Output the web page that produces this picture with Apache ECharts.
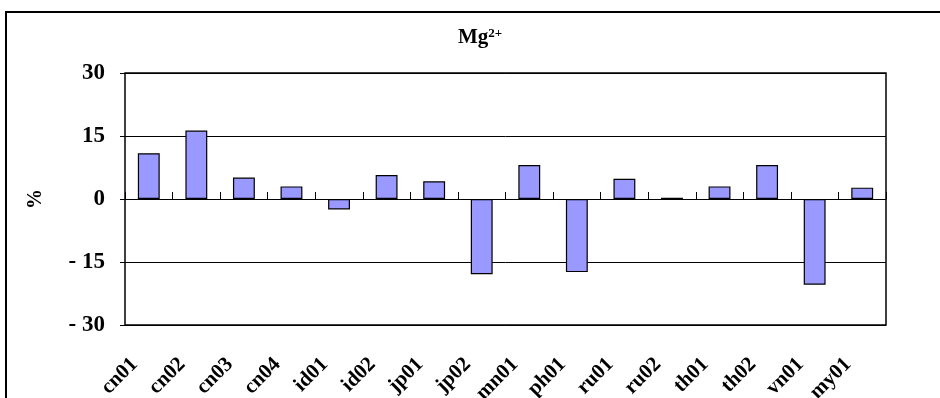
<!DOCTYPE html>
<html>
<head>
<meta charset="utf-8">
<style>
  html, body { margin: 0; padding: 0; background: #fff; }
  #chart { width: 940px; height: 398px; }
</style>
<script src="https://cdn.jsdelivr.net/npm/echarts@6/dist/echarts.min.js"></script>
</head>
<body>
<div id="chart"></div>
<script>
// Station codes along the x axis
const categories = ['cn01', 'cn02', 'cn03', 'cn04', 'id01', 'id02', 'jp01', 'jp02',
                    'mn01', 'ph01', 'ru01', 'ru02', 'th01', 'th02', 'vn01', 'my01'];
// Mg2+ deviation, percent
const mgValues = [10.9, 16.3, 5.1, 3.0, -2.5, 5.7, 4.2, -17.9,
                  8.1, -17.4, 4.8, 0.3, 3.0, 8.1, -20.4, 2.7];
// Value axis ticks
const yTicks = [-30, -15, 0, 15, 30];

const serif = '"Liberation Serif", "Times New Roman", serif';
const chart = echarts.init(document.getElementById('chart'));

chart.setOption({
  animation: false,
  backgroundColor: '#fff',
  title: {
    text: '{a|Mg}{b|2+}',
    left: 453,
    top: 22,
    textStyle: {
      rich: {
        a: { fontFamily: serif, fontWeight: 'bold', fontSize: 21, color: '#000' },
        b: { fontFamily: serif, fontSize: 13, color: '#000', padding: [0, 0, 9, 0] }
      }
    }
  },
  graphic: [
    {
      type: 'rect',
      shape: { x: 6, y: 12, width: 1000, height: 500 },
      style: { fill: 'none', stroke: '#000', lineWidth: 2 },
      silent: true
    },
    {
      type: 'text',
      x: 36,
      y: 199,
      rotation: Math.PI / 2,
      style: {
        text: '%',
        font: 'bold 20px ' + serif,
        fill: '#000',
        align: 'center',
        verticalAlign: 'middle'
      }
    }
  ],
  grid: {
    left: 125,
    right: 54,
    top: 73,
    bottom: 73,
    containLabel: false,
    outerBoundsMode: 'none',
    show: true,
    borderColor: '#000',
    borderWidth: 1.5,
    backgroundColor: '#fff'
  },
  xAxis: [
    {
      type: 'category',
      data: categories,
      axisLine: { onZero: true, lineStyle: { color: '#000', width: 1.2 } },
      axisTick: { show: true, inside: true, length: 7, lineStyle: { color: '#000', width: 1 } },
      axisLabel: { show: false },
      splitLine: { show: false }
    },
    {
      type: 'category',
      data: categories,
      position: 'bottom',
      axisLine: { show: false, onZero: false },
      axisTick: { show: false },
      axisLabel: {
        rotate: 45,
        margin: 22,
        interval: 0,
        padding: [0, 20, 0, 0],
        fontFamily: serif,
        fontWeight: 'bold',
        fontSize: 21,
        color: '#000'
      },
      splitLine: { show: false }
    }
  ],
  yAxis: {
    type: 'value',
    min: yTicks[0],
    max: yTicks[yTicks.length - 1],
    interval: 15,
    axisLine: { show: false },
    axisTick: { show: true, length: 5, lineStyle: { color: '#000' } },
    splitLine: { show: true, lineStyle: { color: '#000', width: 1 } },
    axisLabel: {
      margin: 20,
      fontFamily: serif,
      fontWeight: 'bold',
      fontSize: 23,
      color: '#000',
      formatter: v => (v < 0 ? '- ' + Math.abs(v) : String(v))
    }
  },
  series: [
    {
      type: 'bar',
      xAxisIndex: 0,
      data: mgValues,
      barWidth: '46%',
      itemStyle: { color: '#9999ff', borderColor: '#000', borderWidth: 1.2 }
    }
  ]
});
</script>
</body>
</html>
